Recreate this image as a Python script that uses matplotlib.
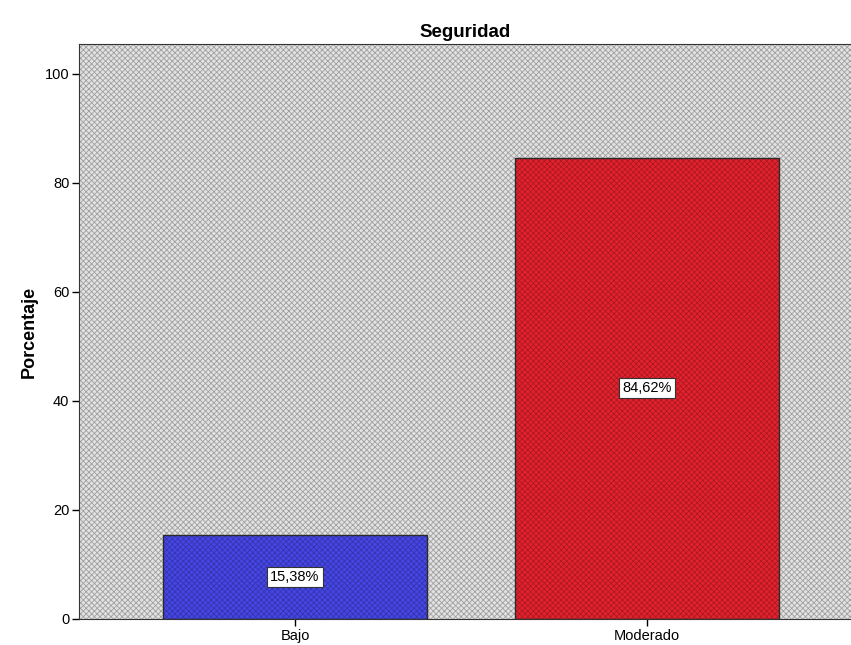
import matplotlib.pyplot as plt
import matplotlib as mpl

categories = ['Bajo', 'Moderado']
values = [15.38, 84.62]
labels = ['15,38%', '84,62%']
colors = ['#4646e6', '#e4222e']

mpl.rcParams['hatch.linewidth'] = 0.6
plt.rcParams['font.family'] = ['Liberation Sans', 'DejaVu Sans']

fig = plt.figure(figsize=(8.51, 6.45), dpi=100)
# axes box in pixels: left 79, right 851, top 44, bottom 619
ax = fig.add_axes([79/851, (645-619)/645, (851-79)/851, (619-44)/645])

# patterned grey background
ax.set_facecolor('#e2e2e2')
bg = mpl.patches.Rectangle((0, 0), 1, 1, transform=ax.transAxes, facecolor='none',
                           edgecolor='#a0a0a0', hatch='xxxxxx', lw=0, zorder=0)
ax.add_patch(bg)

x = range(len(categories))
bars = ax.bar(x, values, width=0.75, color=colors, edgecolor='#2a2a2a', linewidth=1.0, zorder=2)
for b in bars:
    b.set_hatch('xxxxxx')
    b._hatch_color = mpl.colors.to_rgba('#00000040')

for xi, v, lab in zip(x, values, labels):
    ax.text(xi, v / 2, lab, ha='center', va='center', fontsize=10.5, zorder=3,
            bbox=dict(boxstyle='square,pad=0.2', facecolor='white', edgecolor='#333333', lw=0.8))

ax.set_xlim(-0.614, 1.58)
ax.set_ylim(0, 105.5)
ax.set_yticks([0, 20, 40, 60, 80, 100])
ax.set_xticks(list(x))
ax.set_xticklabels(categories)
ax.tick_params(labelsize=10.5, length=5, width=1, pad=2)

for s in ['right']:
    ax.spines[s].set_visible(False)
for s in ['left', 'bottom', 'top']:
    ax.spines[s].set_color('#333333')

ax.set_title('Seguridad', fontsize=13.5, fontweight='bold', pad=5)
ax.set_ylabel('Porcentaje', fontsize=13, fontweight='bold')
ax.yaxis.set_label_coords(-0.054, 0.5)

fig.savefig('out.png', dpi=100)
